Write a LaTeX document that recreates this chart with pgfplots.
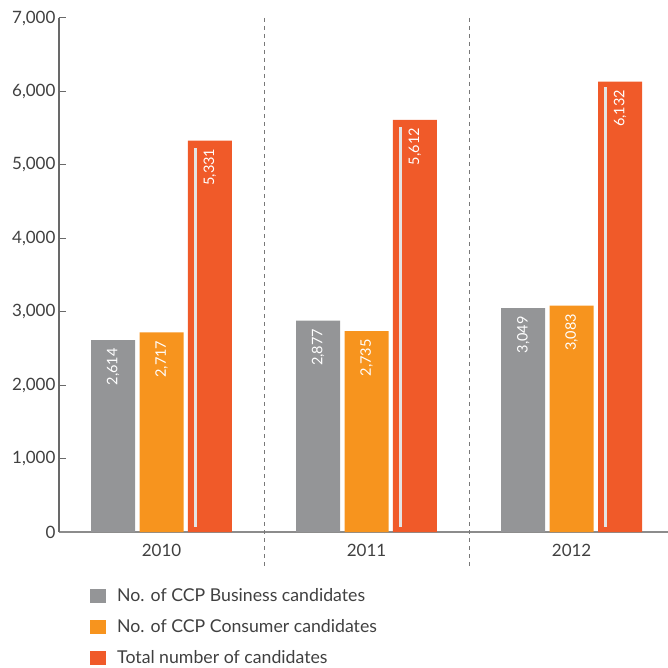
\documentclass[border=0pt]{standalone}
\usepackage{pgfplots}
\pgfplotsset{compat=1.18}
\usepackage{fontspec}
\setmainfont{Lato}
\definecolor{cgray}{RGB}{148,149,151}
\definecolor{corange}{RGB}{247,148,30}
\definecolor{cred}{RGB}{240,90,41}
\definecolor{textgray}{RGB}{64,64,64}
\definecolor{yaxgray}{RGB}{105,105,105}
\definecolor{xaxgray}{RGB}{140,140,140}
\definecolor{linegray}{RGB}{228,228,228}
\definecolor{sepgray}{RGB}{120,120,120}
\begin{document}
\begin{tikzpicture}
\useasboundingbox (-59pt,-135pt) rectangle (609pt,532pt);
\begin{axis}[
  scale only axis, width=609pt, height=514pt,
  xmin=-0.5, xmax=2.47, ymin=0, ymax=7000,
  clip=false,
  ybar, bar width=0.2146,
  axis x line*=bottom, axis y line*=left,
  x axis line style={draw=xaxgray, line width=1.3pt},
  y axis line style={draw=yaxgray, line width=1.2pt},
  xtick={0,1,2}, xticklabels={2010,2011,2012},
  xtick style={draw=none},
  ytick={0,1000,...,7000},
  ytick style={draw=yaxgray, line width=1pt},
  tick align=inside, major tick length=7pt,
  /pgf/number format/assume math mode=true,
  /pgf/number format/1000 sep={,},
  tick label style={font=\fontsize{17}{20}\selectfont, text=textgray},
  xticklabel style={yshift=-9pt},
  legend style={at={(0.0509,-0.106)}, anchor=north west, draw=none, fill=none,
    inner sep=0pt, row sep=12.5pt, font=\fontsize{17.7}{20}\selectfont, text=textgray,
    /tikz/every odd column/.style={column sep=9pt}},
  legend cell align=left,
  mybar/.style={draw=none,
    legend image code/.code={\fill[##1] (0pt,-7pt) rectangle (16pt,7pt);},
    nodes near coords,
    every node near coord/.append style={rotate=90, anchor=east, text=white,
      font=\fontsize{14.5}{16}\selectfont, inner xsep=8pt}},
]
\addplot[mybar, fill=cgray, bar shift=-0.236] coordinates {(0,2614) (1,2877) (2,3049)};
\addlegendentry{No. of CCP Business candidates}
\addplot[mybar, fill=corange, bar shift=0] coordinates {(0,2717) (1,2735) (2,3083)};
\addlegendentry{No. of CCP Consumer candidates}
\addplot[mybar, fill=cred, bar shift=0.236] coordinates {(0,5331) (1,5612) (2,6132)};
\addlegendentry{Total number of candidates}
\addplot[sharp plot, forget plot, draw=linegray, line width=3pt] coordinates {(0.166,70) (0.166,5236)};
\addplot[sharp plot, forget plot, draw=linegray, line width=3pt] coordinates {(1.166,70) (1.166,5520)};
\addplot[sharp plot, forget plot, draw=linegray, line width=3pt] coordinates {(2.166,70) (2.166,6064)};
\draw[sepgray, line width=0.8pt, dash pattern=on 4pt off 4pt] (axis cs:0.5,7000) -- (axis cs:0.5,-477);
\draw[sepgray, line width=0.8pt, dash pattern=on 4pt off 4pt] (axis cs:1.5,7000) -- (axis cs:1.5,-477);
\end{axis}
\end{tikzpicture}
\end{document}
